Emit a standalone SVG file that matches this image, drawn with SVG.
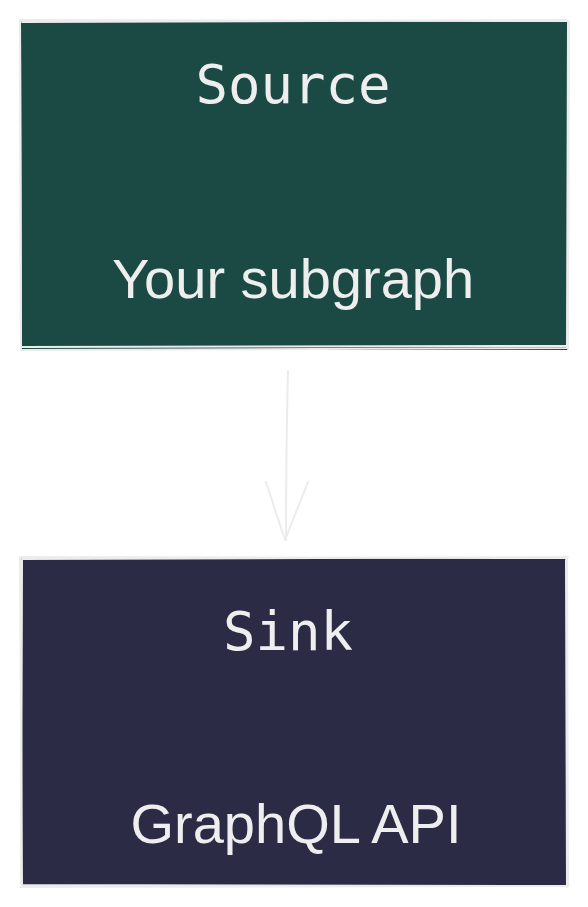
<svg xmlns="http://www.w3.org/2000/svg" width="588" height="907" viewBox="0 0 588 907">
<style>
.edge{fill:none;stroke:#ececec;stroke-width:2;stroke-linecap:round;stroke-linejoin:round}
.sk{fill:none;stroke:#ececec;stroke-width:2;stroke-linecap:round}
.title{font-family:"DejaVu Sans Mono","Liberation Mono",monospace;font-size:54px;fill:#eeeeee;text-anchor:middle}
.sub{font-family:"Liberation Sans",Arial,sans-serif;font-size:56px;fill:#eeeeee;text-anchor:middle}
</style>
<rect width="588" height="907" fill="#ffffff"/>
<g id="source">
<rect x="21" y="21" width="547" height="329" fill="#1b4a45"/>
<path class="sk" d="M20 20 L568 21 L567 348 L21 350 Z"/>
<path class="sk" d="M22 22 L566 20 M569 22 L568 349 M566 346 L22 347 M21 349 L20 22"/>
<text class="title" x="293" y="103">Source</text>
<text class="sub" x="293" y="298">Your subgraph</text>
</g>
<g id="connectors">
<path class="edge" d="M288 371 Q286 450 286 540"/>
<path class="edge" d="M266 482 L285 540 L308 482"/>
</g>
<g id="sink">
<rect x="21" y="558" width="547" height="329" fill="#2c2b45"/>
<path class="sk" d="M20 557 L567 558 L568 886 L22 885 Z"/>
<path class="sk" d="M22 559 L568 557 M566 560 L567 887 M568 886 L20 887 M21 884 L22 560"/>
<text class="title" x="288" y="650">Sink</text>
<text class="sub" x="296" y="843">GraphQL API</text>
</g>
</svg>
